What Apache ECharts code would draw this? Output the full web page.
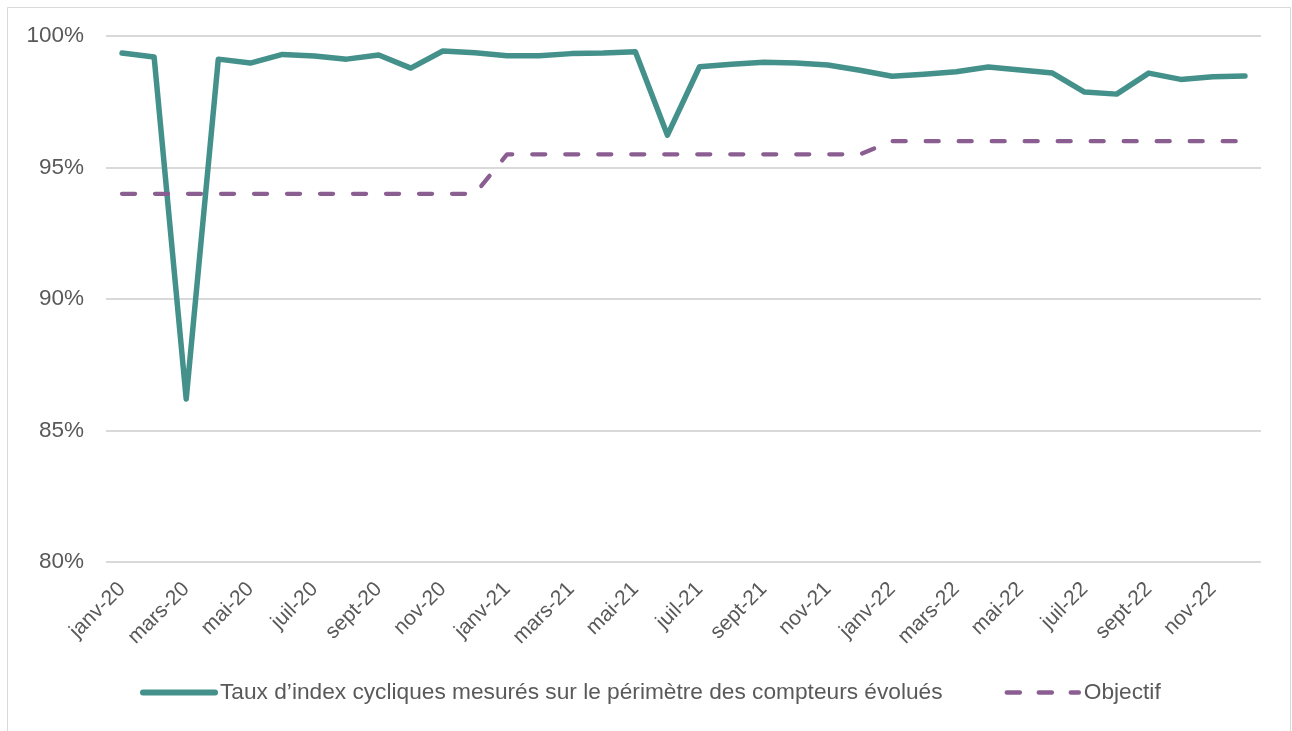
<!DOCTYPE html>
<html>
<head>
<meta charset="utf-8">
<script src="https://cdn.jsdelivr.net/npm/echarts@6/dist/echarts.min.js"></script>
<style>
  html, body { margin: 0; padding: 0; background: #fff; }
  #chart { width: 1292px; height: 731px; }
</style>
</head>
<body>
<div id="chart"></div>
<script>
const months = [
  'janv-20', 'févr-20', 'mars-20', 'avr-20', 'mai-20', 'juin-20',
  'juil-20', 'août-20', 'sept-20', 'oct-20', 'nov-20', 'déc-20',
  'janv-21', 'févr-21', 'mars-21', 'avr-21', 'mai-21', 'juin-21',
  'juil-21', 'août-21', 'sept-21', 'oct-21', 'nov-21', 'déc-21',
  'janv-22', 'févr-22', 'mars-22', 'avr-22', 'mai-22', 'juin-22',
  'juil-22', 'août-22', 'sept-22', 'oct-22', 'nov-22', 'déc-22'
]
// taux mesuré (%)
const tauxIndex = [
  99.35, 99.2, 86.2, 99.12, 98.97, 99.3,
  99.24, 99.12, 99.28, 98.78, 99.43, 99.36,
  99.25, 99.25, 99.33, 99.35, 99.4, 96.23,
  98.83, 98.93, 99.0, 98.97, 98.9, 98.7,
  98.47, 98.55, 98.64, 98.82, 98.71, 98.59,
  97.87, 97.79, 98.59, 98.35, 98.45, 98.48
]
const objectif = [
  94, 94, 94, 94, 94, 94, 94, 94, 94, 94, 94, 94,
  95.5, 95.5, 95.5, 95.5, 95.5, 95.5, 95.5, 95.5, 95.5, 95.5, 95.5, 95.5,
  96, 96, 96, 96, 96, 96, 96, 96, 96, 96, 96, 96
]
const serieNames = [
  'Taux d\u2019index cycliques mesurés sur le périmètre des compteurs évolués',
  'Objectif'
]

const textColor = '#595959'
const font = "'Liberation Sans', Arial, sans-serif"
const tealColor = '#43918a'
const purpleColor = '#8a5e91'
const dash = [13, 20]

const chart = echarts.init(document.getElementById('chart'))
chart.setOption({
  animation: false,
  graphic: [
    {
      type: 'rect',
      shape: { x: 7.5, y: 7.5, width: 1283, height: 740 },
      style: { fill: 'none', stroke: '#d9d9d9', lineWidth: 1 },
      silent: true
    }
  ],
  grid: {
    left: 106,
    right: 31,
    top: 36,
    bottom: 169
  },
  legend: {
    data: [
      {
        name: serieNames[0],
        lineStyle: { color: tealColor, width: 6, cap: 'round' }
      },
      {
        name: serieNames[1],
        lineStyle: { color: purpleColor, width: 4.5, type: [13, 19], cap: 'round' }
      }
    ],
    top: 681,
    left: 140,
    padding: 0,
    itemWidth: 72,
    itemHeight: 28,
    itemGap: 62,
    // hide the circle marker, keep only the line
    itemStyle: { color: 'rgba(0,0,0,0)', borderWidth: 0 },
    textStyle: {
      color: textColor,
      fontSize: 22.7,
      fontFamily: font
    }
  },
  xAxis: {
    type: 'category',
    data: months,
    boundaryGap: true,
    axisLine: { show: false },
    axisTick: { show: false },
    axisLabel: {
      interval: 1,
      rotate: 45,
      margin: 24,
      color: textColor,
      fontSize: 21,
      fontFamily: font
    }
  },
  yAxis: {
    type: 'value',
    min: 80,
    max: 100,
    interval: 5,
    axisLabel: {
      formatter: '{value}%',
      margin: 22,
      color: textColor,
      fontSize: 22.5,
      fontFamily: font
    },
    splitLine: {
      lineStyle: { color: '#d9d9d9', width: 2 }
    }
  },
  series: [
    {
      name: serieNames[0],
      type: 'line',
      data: tauxIndex,
      symbol: 'none',
      color: tealColor,
      lineStyle: { color: tealColor, width: 5.5, cap: 'round', join: 'round' }
    },
    {
      name: serieNames[1],
      type: 'line',
      data: objectif,
      symbol: 'none',
      color: purpleColor,
      lineStyle: {
        color: purpleColor,
        width: 4.3,
        type: dash,
        cap: 'round',
        join: 'round'
      }
    }
  ]
})
</script>
</body>
</html>
